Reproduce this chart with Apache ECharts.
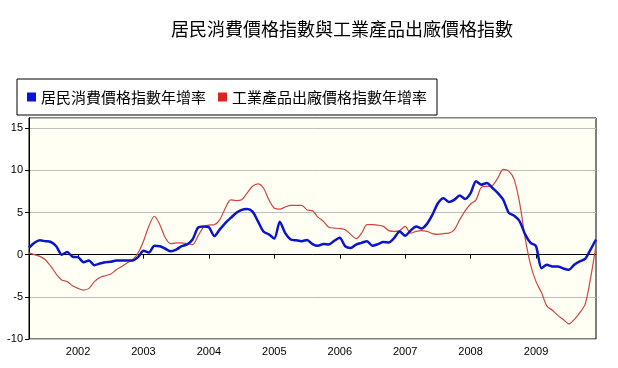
<!DOCTYPE html>
<html>
<head>
<meta charset="utf-8">
<script src="https://cdn.jsdelivr.net/npm/echarts@6/dist/echarts.min.js"></script>
<style>
html,body{margin:0;padding:0;background:#fff;}
#c{width:618px;height:368px;}
</style>
</head>
<body>
<div id="c"></div>
<script>
// Monthly, April 2001 to December 2009
const startYear = 2001, startMonth = 4, endYear = 2009, endMonth = 12;
const months = [];
for (let y = startYear, m = startMonth; y < endYear || (y === endYear && m <= endMonth); ) {
  months.push(y + '-' + (m < 10 ? '0' + m : m));
  m++; if (m > 12) { m = 1; y++; }
}

const seriesNames = ['居民消費價格指數年增率', '工業產品出廠價格指數年增率'];

// 居民消費價格指數年增率 (%)
const cpi = [
  0.8, 1.4, 1.7, 1.6, 1.5, 1.0, 0.0, 0.3, -0.25,
  -0.3, -0.9, -0.7, -1.25, -1.05, -0.9, -0.85, -0.7, -0.7, -0.7, -0.7, -0.3,
  0.45, 0.25, 1.05, 1.0, 0.7, 0.4, 0.6, 1.0, 1.2, 1.8, 3.2, 3.35,
  3.25, 2.2, 3.0, 3.75, 4.35, 4.95, 5.3, 5.4, 5.1, 3.95, 2.75, 2.4,
  1.9, 3.9, 2.55, 1.8, 1.7, 1.6, 1.75, 1.25, 1.05, 1.25, 1.2, 1.65,
  2.0, 1.0, 0.8, 1.2, 1.4, 1.6, 1.05, 1.25, 1.5, 1.45, 2.0, 2.75,
  2.25, 2.85, 3.35, 3.1, 3.65, 4.75, 6.1, 6.7, 6.25, 6.5, 7.0, 6.6,
  7.3, 8.7, 8.3, 8.5, 7.9, 7.3, 6.5, 4.95, 4.6, 3.95, 2.4, 1.4,
  1.0, -1.6, -1.2, -1.4, -1.4, -1.65, -1.8, -1.2, -0.8, -0.5, 0.6, 1.8
];

// 工業產品出廠價格指數年增率 (%)
const ppi = [
  0.2, 0.0, -0.2, -0.6, -1.4, -2.3, -3.0, -3.2, -3.7,
  -4.0, -4.2, -4.0, -3.2, -2.7, -2.5, -2.3, -1.8, -1.4, -1.0, -0.6, 0.2,
  1.6, 3.4, 4.55, 3.55, 2.0, 1.3, 1.4, 1.4, 1.3, 1.2, 2.2, 3.25,
  3.5, 3.55, 4.15, 5.5, 6.5, 6.4, 6.5, 7.3, 8.1, 8.4, 7.9, 6.5,
  5.5, 5.4, 5.65, 5.85, 5.85, 5.85, 5.3, 5.2, 4.45, 3.95, 3.25, 3.15,
  3.1, 2.95, 2.4, 1.9, 2.55, 3.55, 3.55, 3.5, 3.35, 2.85, 2.75, 2.85,
  3.35, 2.55, 2.75, 2.85, 2.75, 2.5, 2.4, 2.5, 2.55, 2.95, 4.15, 5.2,
  6.0, 6.5, 8.0, 8.1, 8.2, 9.1, 10.1, 9.9, 8.9, 6.1, 2.0, -1.2,
  -3.2, -4.5, -6.1, -6.6, -7.2, -7.7, -8.2, -7.7, -6.9, -5.9, -2.8, 1.1
];

const yTicks = [-10, -5, 0, 5, 10, 15];

const isJan = (i, v) => v.slice(5) === '01';

const chart = echarts.init(document.getElementById('c'), null, {renderer: 'canvas'});
chart.setOption({
  animation: false,
  backgroundColor: '#ffffff',
  title: {
    text: '居民消費價格指數與工業產品出廠價格指數',
    left: 166, top: 15,
    textStyle: {fontFamily: 'Noto Sans CJK TC', fontSize: 18, fontWeight: 'normal', color: '#000'}
  },
  legend: {
    left: 17, top: 79,
    padding: [10, 10, 10, 10],
    borderColor: '#000', borderWidth: 1,
    backgroundColor: '#fff',
    itemWidth: 9, itemHeight: 9, itemGap: 12,
    icon: 'rect',
    textStyle: {fontFamily: 'Noto Sans CJK TC', fontSize: 15, lineHeight: 16, color: '#000'},
    data: [
      {name: seriesNames[0], itemStyle: {color: '#0a14d8'}},
      {name: seriesNames[1], itemStyle: {color: '#dd2222'}}
    ]
  },
  grid: {
    left: 29, right: 22, top: 118, bottom: 29,
    show: true, backgroundColor: '#fffff4', borderColor: '#000', borderWidth: 1
  },
  xAxis: {
    type: 'category',
    data: months,
    boundaryGap: false,
    axisLine: {lineStyle: {color: '#000', width: 1}},
    axisTick: {interval: isJan, length: 4, lineStyle: {color: '#000'}},
    axisLabel: {interval: isJan, formatter: v => v.slice(0, 4), color: '#000',
      fontFamily: 'Liberation Sans', fontSize: 11, margin: 7},
    splitLine: {show: false}
  },
  yAxis: {
    type: 'value',
    min: yTicks[0], max: 16.2, interval: 5,
    axisLine: {show: true, lineStyle: {color: '#000', width: 1}},
    axisTick: {show: true, length: 4, lineStyle: {color: '#000'}},
    axisLabel: {color: '#000', fontFamily: 'Liberation Sans', fontSize: 11, margin: 6,
      showMaxLabel: false,
      formatter: v => yTicks.indexOf(v) >= 0 ? String(v) : ''},
    splitLine: {lineStyle: {color: '#bdbdbd', width: 1}}
  },
  series: [
    {
      name: seriesNames[0], type: 'line', data: cpi, showSymbol: false, smooth: 0.25,
      lineStyle: {color: '#0a14c8', width: 2.5}, itemStyle: {color: '#0a14d8'}, z: 3
    },
    {
      name: seriesNames[1], type: 'line', data: ppi, showSymbol: false, smooth: 0.3,
      lineStyle: {color: '#d04444', width: 1.2}, itemStyle: {color: '#dd2222'}, z: 2
    }
  ]
});
</script>
</body>
</html>
